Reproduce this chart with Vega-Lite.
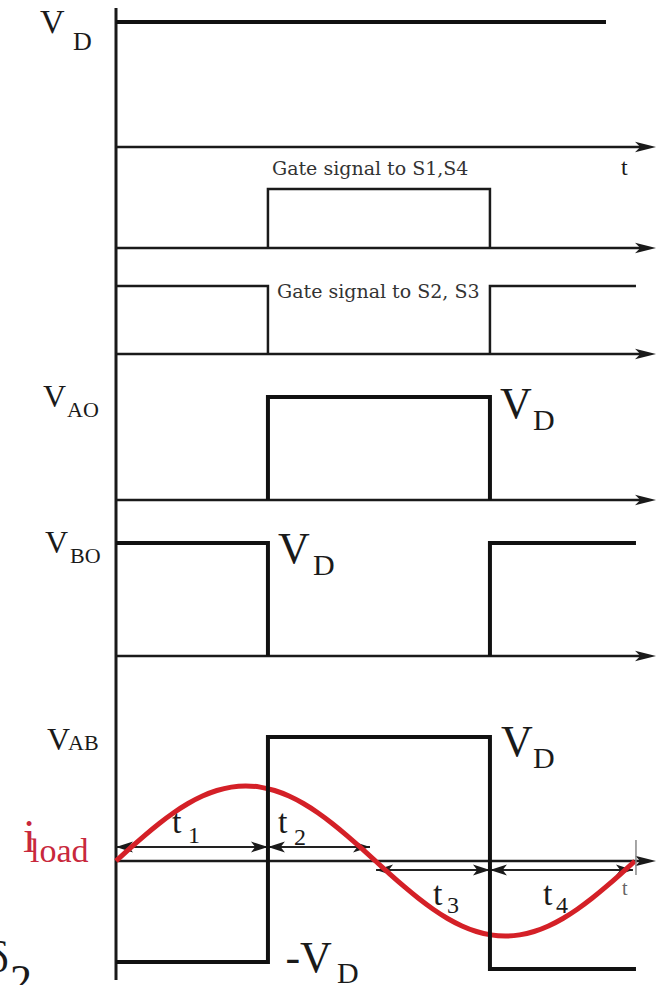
{
  "$schema": "https://vega.github.io/schema/vega-lite/v6.json",
  "width": 666,
  "height": 985,
  "autosize": {"type": "none"},
  "padding": 0,
  "background": "white",
  "config": {"view": {"stroke": null}, "text": {"font": "Liberation Serif", "align": "left", "baseline": "alphabetic"}},
  "datasets": {
    "wave": [
      {"sig": "vd", "seg": "a", "i": 1, "t": 0, "v": 1},
      {"sig": "vd", "seg": "a", "i": 2, "t": 339.9, "v": 1},
      {"sig": "g14", "seg": "a", "i": 1, "t": 105.4, "v": 0},
      {"sig": "g14", "seg": "a", "i": 2, "t": 105.4, "v": 1},
      {"sig": "g14", "seg": "a", "i": 3, "t": 259.4, "v": 1},
      {"sig": "g14", "seg": "a", "i": 4, "t": 259.4, "v": 0},
      {"sig": "g23", "seg": "a", "i": 1, "t": 0, "v": 1},
      {"sig": "g23", "seg": "a", "i": 2, "t": 105.4, "v": 1},
      {"sig": "g23", "seg": "a", "i": 3, "t": 105.4, "v": 0},
      {"sig": "g23", "seg": "b", "i": 4, "t": 259.4, "v": 0},
      {"sig": "g23", "seg": "b", "i": 5, "t": 259.4, "v": 1},
      {"sig": "g23", "seg": "b", "i": 6, "t": 360.7, "v": 1},
      {"sig": "vao", "seg": "a", "i": 1, "t": 105.4, "v": 0},
      {"sig": "vao", "seg": "a", "i": 2, "t": 105.4, "v": 1},
      {"sig": "vao", "seg": "a", "i": 3, "t": 259.4, "v": 1},
      {"sig": "vao", "seg": "a", "i": 4, "t": 259.4, "v": 0},
      {"sig": "vbo", "seg": "a", "i": 1, "t": 0, "v": 1},
      {"sig": "vbo", "seg": "a", "i": 2, "t": 105.4, "v": 1},
      {"sig": "vbo", "seg": "a", "i": 3, "t": 105.4, "v": 0},
      {"sig": "vbo", "seg": "b", "i": 4, "t": 259.4, "v": 0},
      {"sig": "vbo", "seg": "b", "i": 5, "t": 259.4, "v": 1},
      {"sig": "vbo", "seg": "b", "i": 6, "t": 360.7, "v": 1},
      {"sig": "vab", "seg": "a", "i": 1, "t": 0, "v": -0.815},
      {"sig": "vab", "seg": "a", "i": 2, "t": 105.4, "v": -0.815},
      {"sig": "vab", "seg": "a", "i": 3, "t": 105.4, "v": 1},
      {"sig": "vab", "seg": "a", "i": 4, "t": 259.4, "v": 1},
      {"sig": "vab", "seg": "a", "i": 5, "t": 259.4, "v": -0.87},
      {"sig": "vab", "seg": "a", "i": 6, "t": 360.7, "v": -0.87}
    ],
    "axis": [
      {"sig": "vd", "t": 0, "t2": 366, "v": 0},
      {"sig": "g14", "t": 0, "t2": 366, "v": 0},
      {"sig": "g23", "t": 0, "t2": 366, "v": 0},
      {"sig": "vao", "t": 0, "t2": 366, "v": 0},
      {"sig": "vbo", "t": 0, "t2": 366, "v": 0},
      {"sig": "vab", "t": 0, "t2": 366, "v": 0}
    ],
    "heads": [
      {"sig": "vd", "t": 374.6, "v": 0},
      {"sig": "g14", "t": 374.6, "v": 0},
      {"sig": "g23", "t": 374.6, "v": 0},
      {"sig": "vao", "t": 374.6, "v": 0},
      {"sig": "vbo", "t": 374.6, "v": 0},
      {"sig": "vab", "t": 374.6, "v": 0}
    ],
    "vaxis": [{"t": 0, "v": 1.112, "v2": -6.664}],
    "dims": [
      {"t": 0, "t2": 105.4, "v": 0.113},
      {"t": 105.4, "t2": 176.2, "v": 0.113},
      {"t": 180.4, "t2": 259.4, "v": -0.0726},
      {"t": 259.4, "t2": 358.6, "v": -0.0726}
    ],
    "dimheads": [
      {"t": 0, "v": 0.113, "dir": "L"},
      {"t": 105.4, "v": 0.113, "dir": "R"},
      {"t": 105.4, "v": 0.113, "dir": "L"},
      {"t": 176.2, "v": 0.113, "dir": "R"},
      {"t": 180.4, "v": -0.0726, "dir": "L"},
      {"t": 259.4, "v": -0.0726, "dir": "R"},
      {"t": 259.4, "v": -0.0726, "dir": "L"},
      {"t": 358.6, "v": -0.0726, "dir": "R"}
    ],
    "tick": [{"t": 360.7, "v": 0.169, "v2": -0.113}],
    "cur": [
      {"t": 0, "v": 0}, {"t": 10, "v": 0.1051}, {"t": 20, "v": 0.2069}, {"t": 30, "v": 0.3025},
      {"t": 40, "v": 0.3889}, {"t": 50, "v": 0.4635}, {"t": 60, "v": 0.5239}, {"t": 70, "v": 0.5685},
      {"t": 80, "v": 0.5958}, {"t": 90, "v": 0.605}, {"t": 100, "v": 0.5958}, {"t": 110, "v": 0.5685},
      {"t": 120, "v": 0.5239}, {"t": 130, "v": 0.4635}, {"t": 140, "v": 0.3889}, {"t": 150, "v": 0.3025},
      {"t": 160, "v": 0.2069}, {"t": 170, "v": 0.1051}, {"t": 180, "v": 0},
      {"t": 190, "v": -0.1051}, {"t": 200, "v": -0.2069}, {"t": 210, "v": -0.3025}, {"t": 220, "v": -0.3889},
      {"t": 230, "v": -0.4635}, {"t": 240, "v": -0.5239}, {"t": 250, "v": -0.5685}, {"t": 260, "v": -0.5958},
      {"t": 270, "v": -0.605}, {"t": 280, "v": -0.5958}, {"t": 290, "v": -0.5685}, {"t": 300, "v": -0.5239},
      {"t": 310, "v": -0.4635}, {"t": 320, "v": -0.3889}, {"t": 330, "v": -0.3025}, {"t": 340, "v": -0.2069},
      {"t": 350, "v": -0.1051}, {"t": 360, "v": 0}
    ],
    "gate": [
      {"sig": "g14", "t": 108.2, "v": 1.237, "txt": "Gate signal to S1,S4"},
      {"sig": "g23", "t": 111.7, "v": 0.8235, "txt": "Gate signal to S2, S3"}
    ],
    "labels": [
      {"sig": "vd", "t": -52.7, "v": 0.912, "txt": "V", "role": "v34", "ink": "k"},
      {"sig": "vd", "t": -29.8, "v": 0.776, "txt": "D", "role": "s26", "ink": "k"},
      {"sig": "vd", "t": 350.3, "v": -0.224, "txt": "t", "role": "s24", "ink": "k"},
      {"sig": "vao", "t": -50.6, "v": 0.903, "txt": "V", "role": "v32", "ink": "k"},
      {"sig": "vao", "t": -34.0, "v": 0.806, "txt": "AO", "role": "s22", "ink": "k"},
      {"sig": "vao", "t": 266.4, "v": 0.796, "txt": "V", "role": "v44", "ink": "k"},
      {"sig": "vao", "t": 289.3, "v": 0.68, "txt": "D", "role": "s30", "ink": "k"},
      {"sig": "vbo", "t": -49.25, "v": 0.912, "txt": "V", "role": "v32", "ink": "k"},
      {"sig": "vbo", "t": -31.9, "v": 0.823, "txt": "BO", "role": "s22", "ink": "k"},
      {"sig": "vbo", "t": 112.4, "v": 0.823, "txt": "V", "role": "v44", "ink": "k"},
      {"sig": "vbo", "t": 136.7, "v": 0.717, "txt": "D", "role": "s30", "ink": "k"},
      {"sig": "vab", "t": -47.9, "v": 0.895, "txt": "V", "role": "v32", "ink": "k"},
      {"sig": "vab", "t": -33.3, "v": 0.895, "txt": "AB", "role": "s22", "ink": "k"},
      {"sig": "vab", "t": 267.1, "v": 0.847, "txt": "V", "role": "v44", "ink": "k"},
      {"sig": "vab", "t": 289.3, "v": 0.75, "txt": "D", "role": "s30", "ink": "k"},
      {"sig": "vab", "t": 117.5, "v": -0.895, "txt": "-V", "role": "v44", "ink": "k"},
      {"sig": "vab", "t": 153.3, "v": -0.984, "txt": "D", "role": "s30", "ink": "k"},
      {"sig": "vab", "t": -64.5, "v": 0.0726, "txt": "i", "role": "i46", "ink": "r"},
      {"sig": "vab", "t": -59.7, "v": -0.008, "txt": "load", "role": "v34", "ink": "r"},
      {"sig": "vab", "t": 38.8, "v": 0.226, "txt": "t", "role": "v34", "ink": "k"},
      {"sig": "vab", "t": 49.9, "v": 0.145, "txt": "1", "role": "s24", "ink": "k"},
      {"sig": "vab", "t": 112.4, "v": 0.226, "txt": "t", "role": "v34", "ink": "k"},
      {"sig": "vab", "t": 123.5, "v": 0.129, "txt": "2", "role": "s24", "ink": "k"},
      {"sig": "vab", "t": 219.9, "v": -0.355, "txt": "t", "role": "v34", "ink": "k"},
      {"sig": "vab", "t": 229.6, "v": -0.419, "txt": "3", "role": "s24", "ink": "k"},
      {"sig": "vab", "t": 296.2, "v": -0.355, "txt": "t", "role": "v34", "ink": "k"},
      {"sig": "vab", "t": 305.2, "v": -0.419, "txt": "4", "role": "s24", "ink": "k"},
      {"sig": "vab", "t": 351.0, "v": -0.274, "txt": "t", "role": "s20", "ink": "g"},
      {"sig": "vab", "t": -88.8, "v": -0.895, "txt": "δ", "role": "v44", "ink": "k"},
      {"sig": "vab", "t": -73.5, "v": -1.08, "txt": "2.", "role": "v44", "ink": "k"}
    ]
  },
  "encoding": {
    "x": {"field": "t", "type": "quantitative", "scale": {"domain": [-80.47, 381.53], "nice": false, "zero": false}, "axis": null}
  },
  "resolve": {"scale": {"y": "independent"}},
  "layer": [
    {
      "encoding": {"y": {"field": "v", "type": "quantitative", "scale": {"domain": [-6.704, 1.176], "nice": false, "zero": false}, "axis": null}},
      "layer": [
        {"data": {"name": "vaxis"}, "mark": {"type": "rule", "strokeWidth": 3, "color": "#1a1a1a"}, "encoding": {"y2": {"field": "v2"}}},
        {"data": {"name": "axis"}, "transform": [{"filter": "datum.sig == 'vd'"}], "mark": {"type": "rule", "strokeWidth": 2.5, "color": "#1a1a1a"}, "encoding": {"x2": {"field": "t2"}}},
        {"data": {"name": "heads"}, "transform": [{"filter": "datum.sig == 'vd'"}], "mark": {"type": "point", "shape": "M0,0L-1,-0.25L-0.75,0L-1,0.25Z", "size": 1764, "filled": true, "opacity": 1, "strokeWidth": 0, "color": "#1a1a1a"}},
        {"data": {"name": "wave"}, "transform": [{"filter": "datum.sig == 'vd'"}], "mark": {"type": "line", "strokeWidth": 4, "color": "#111111", "strokeJoin": "miter"}, "encoding": {"order": {"field": "i"}, "detail": {"field": "seg"}}},
        {"data": {"name": "labels"}, "transform": [{"filter": "datum.sig == 'vd' && datum.role == 'v34'"}], "mark": {"type": "text", "fontSize": 34, "color": "#1a1a1a"}, "encoding": {"text": {"field": "txt"}}},
        {"data": {"name": "labels"}, "transform": [{"filter": "datum.sig == 'vd' && datum.role == 's26'"}], "mark": {"type": "text", "fontSize": 26, "color": "#1a1a1a"}, "encoding": {"text": {"field": "txt"}}},
        {"data": {"name": "labels"}, "transform": [{"filter": "datum.sig == 'vd' && datum.role == 's24'"}], "mark": {"type": "text", "fontSize": 24, "color": "#1a1a1a"}, "encoding": {"text": {"field": "txt"}}}
      ]
    },
    {
      "encoding": {"y": {"field": "v", "type": "quantitative", "scale": {"domain": [-12.492, 4.2034], "nice": false, "zero": false}, "axis": null}},
      "layer": [
        {"data": {"name": "axis"}, "transform": [{"filter": "datum.sig == 'g14'"}], "mark": {"type": "rule", "strokeWidth": 2.5, "color": "#1a1a1a"}, "encoding": {"x2": {"field": "t2"}}},
        {"data": {"name": "heads"}, "transform": [{"filter": "datum.sig == 'g14'"}], "mark": {"type": "point", "shape": "M0,0L-1,-0.25L-0.75,0L-1,0.25Z", "size": 1764, "filled": true, "opacity": 1, "strokeWidth": 0, "color": "#1a1a1a"}},
        {"data": {"name": "wave"}, "transform": [{"filter": "datum.sig == 'g14'"}], "mark": {"type": "line", "strokeWidth": 2.5, "color": "#1a1a1a", "strokeJoin": "miter"}, "encoding": {"order": {"field": "i"}, "detail": {"field": "seg"}}},
        {"data": {"name": "gate"}, "transform": [{"filter": "datum.sig == 'g14'"}], "mark": {"type": "text", "font": "DejaVu Serif", "fontSize": 19, "color": "#333333"}, "encoding": {"text": {"field": "txt"}}}
      ]
    },
    {
      "encoding": {"y": {"field": "v", "type": "quantitative", "scale": {"domain": [-9.279, 5.2059], "nice": false, "zero": false}, "axis": null}},
      "layer": [
        {"data": {"name": "axis"}, "transform": [{"filter": "datum.sig == 'g23'"}], "mark": {"type": "rule", "strokeWidth": 2.5, "color": "#1a1a1a"}, "encoding": {"x2": {"field": "t2"}}},
        {"data": {"name": "heads"}, "transform": [{"filter": "datum.sig == 'g23'"}], "mark": {"type": "point", "shape": "M0,0L-1,-0.25L-0.75,0L-1,0.25Z", "size": 1764, "filled": true, "opacity": 1, "strokeWidth": 0, "color": "#1a1a1a"}},
        {"data": {"name": "wave"}, "transform": [{"filter": "datum.sig == 'g23'"}], "mark": {"type": "line", "strokeWidth": 2.5, "color": "#1a1a1a", "strokeJoin": "miter"}, "encoding": {"order": {"field": "i"}, "detail": {"field": "seg"}}},
        {"data": {"name": "gate"}, "transform": [{"filter": "datum.sig == 'g23'"}], "mark": {"type": "text", "font": "DejaVu Serif", "fontSize": 19, "color": "#333333"}, "encoding": {"text": {"field": "txt"}}}
      ]
    },
    {
      "encoding": {"y": {"field": "v", "type": "quantitative", "scale": {"domain": [-4.7087, 4.8544], "nice": false, "zero": false}, "axis": null}},
      "layer": [
        {"data": {"name": "axis"}, "transform": [{"filter": "datum.sig == 'vao'"}], "mark": {"type": "rule", "strokeWidth": 2.5, "color": "#1a1a1a"}, "encoding": {"x2": {"field": "t2"}}},
        {"data": {"name": "heads"}, "transform": [{"filter": "datum.sig == 'vao'"}], "mark": {"type": "point", "shape": "M0,0L-1,-0.25L-0.75,0L-1,0.25Z", "size": 1764, "filled": true, "opacity": 1, "strokeWidth": 0, "color": "#1a1a1a"}},
        {"data": {"name": "wave"}, "transform": [{"filter": "datum.sig == 'vao'"}], "mark": {"type": "line", "strokeWidth": 4, "color": "#111111", "strokeJoin": "miter"}, "encoding": {"order": {"field": "i"}, "detail": {"field": "seg"}}},
        {"data": {"name": "labels"}, "transform": [{"filter": "datum.sig == 'vao' && datum.role == 'v32'"}], "mark": {"type": "text", "fontSize": 32, "color": "#1a1a1a"}, "encoding": {"text": {"field": "txt"}}},
        {"data": {"name": "labels"}, "transform": [{"filter": "datum.sig == 'vao' && datum.role == 's22'"}], "mark": {"type": "text", "fontSize": 22, "color": "#1a1a1a"}, "encoding": {"text": {"field": "txt"}}},
        {"data": {"name": "labels"}, "transform": [{"filter": "datum.sig == 'vao' && datum.role == 'v44'"}], "mark": {"type": "text", "fontSize": 44, "color": "#1a1a1a"}, "encoding": {"text": {"field": "txt"}}},
        {"data": {"name": "labels"}, "transform": [{"filter": "datum.sig == 'vao' && datum.role == 's30'"}], "mark": {"type": "text", "fontSize": 30, "color": "#1a1a1a"}, "encoding": {"text": {"field": "txt"}}}
      ]
    },
    {
      "encoding": {"y": {"field": "v", "type": "quantitative", "scale": {"domain": [-2.9115, 5.8053], "nice": false, "zero": false}, "axis": null}},
      "layer": [
        {"data": {"name": "axis"}, "transform": [{"filter": "datum.sig == 'vbo'"}], "mark": {"type": "rule", "strokeWidth": 2.5, "color": "#1a1a1a"}, "encoding": {"x2": {"field": "t2"}}},
        {"data": {"name": "heads"}, "transform": [{"filter": "datum.sig == 'vbo'"}], "mark": {"type": "point", "shape": "M0,0L-1,-0.25L-0.75,0L-1,0.25Z", "size": 1764, "filled": true, "opacity": 1, "strokeWidth": 0, "color": "#1a1a1a"}},
        {"data": {"name": "wave"}, "transform": [{"filter": "datum.sig == 'vbo'"}], "mark": {"type": "line", "strokeWidth": 4, "color": "#111111", "strokeJoin": "miter"}, "encoding": {"order": {"field": "i"}, "detail": {"field": "seg"}}},
        {"data": {"name": "labels"}, "transform": [{"filter": "datum.sig == 'vbo' && datum.role == 'v32'"}], "mark": {"type": "text", "fontSize": 32, "color": "#1a1a1a"}, "encoding": {"text": {"field": "txt"}}},
        {"data": {"name": "labels"}, "transform": [{"filter": "datum.sig == 'vbo' && datum.role == 's22'"}], "mark": {"type": "text", "fontSize": 22, "color": "#1a1a1a"}, "encoding": {"text": {"field": "txt"}}},
        {"data": {"name": "labels"}, "transform": [{"filter": "datum.sig == 'vbo' && datum.role == 'v44'"}], "mark": {"type": "text", "fontSize": 44, "color": "#1a1a1a"}, "encoding": {"text": {"field": "txt"}}},
        {"data": {"name": "labels"}, "transform": [{"filter": "datum.sig == 'vbo' && datum.role == 's30'"}], "mark": {"type": "text", "fontSize": 30, "color": "#1a1a1a"}, "encoding": {"text": {"field": "txt"}}}
      ]
    },
    {
      "encoding": {"y": {"field": "v", "type": "quantitative", "scale": {"domain": [-1.0, 6.9435], "nice": false, "zero": false}, "axis": null}},
      "layer": [
        {"data": {"name": "axis"}, "transform": [{"filter": "datum.sig == 'vab'"}], "mark": {"type": "rule", "strokeWidth": 2.5, "color": "#1a1a1a"}, "encoding": {"x2": {"field": "t2"}}},
        {"data": {"name": "heads"}, "transform": [{"filter": "datum.sig == 'vab'"}], "mark": {"type": "point", "shape": "M0,0L-1,-0.25L-0.75,0L-1,0.25Z", "size": 1764, "filled": true, "opacity": 1, "strokeWidth": 0, "color": "#1a1a1a"}},
        {"data": {"name": "dims"}, "mark": {"type": "rule", "strokeWidth": 1.8, "color": "#222222"}, "encoding": {"x2": {"field": "t2"}}},
        {"data": {"name": "dimheads"}, "transform": [{"filter": "datum.dir == 'R'"}], "mark": {"type": "point", "shape": "M0,0L-1,-0.32L-0.75,0L-1,0.32Z", "size": 1156, "filled": true, "opacity": 1, "strokeWidth": 0, "color": "#1a1a1a"}},
        {"data": {"name": "dimheads"}, "transform": [{"filter": "datum.dir == 'L'"}], "mark": {"type": "point", "shape": "M0,0L1,-0.32L0.75,0L1,0.32Z", "size": 1156, "filled": true, "opacity": 1, "strokeWidth": 0, "color": "#1a1a1a"}},
        {"data": {"name": "cur"}, "mark": {"type": "line", "strokeWidth": 5, "color": "#d42027", "interpolate": "natural"}},
        {"data": {"name": "wave"}, "transform": [{"filter": "datum.sig == 'vab'"}], "mark": {"type": "line", "strokeWidth": 4, "color": "#111111", "strokeJoin": "miter"}, "encoding": {"order": {"field": "i"}, "detail": {"field": "seg"}}},
        {"data": {"name": "tick"}, "mark": {"type": "rule", "strokeWidth": 1.5, "color": "#888888"}, "encoding": {"y2": {"field": "v2"}}},
        {"data": {"name": "labels"}, "transform": [{"filter": "datum.sig == 'vab' && datum.role == 'v32'"}], "mark": {"type": "text", "fontSize": 32, "color": "#1a1a1a"}, "encoding": {"text": {"field": "txt"}}},
        {"data": {"name": "labels"}, "transform": [{"filter": "datum.sig == 'vab' && datum.role == 's22'"}], "mark": {"type": "text", "fontSize": 22, "color": "#1a1a1a"}, "encoding": {"text": {"field": "txt"}}},
        {"data": {"name": "labels"}, "transform": [{"filter": "datum.sig == 'vab' && datum.role == 'v44'"}], "mark": {"type": "text", "fontSize": 44, "color": "#1a1a1a"}, "encoding": {"text": {"field": "txt"}}},
        {"data": {"name": "labels"}, "transform": [{"filter": "datum.sig == 'vab' && datum.role == 's30'"}], "mark": {"type": "text", "fontSize": 30, "color": "#1a1a1a"}, "encoding": {"text": {"field": "txt"}}},
        {"data": {"name": "labels"}, "transform": [{"filter": "datum.sig == 'vab' && datum.role == 'v34' && datum.ink == 'k'"}], "mark": {"type": "text", "fontSize": 34, "color": "#1a1a1a"}, "encoding": {"text": {"field": "txt"}}},
        {"data": {"name": "labels"}, "transform": [{"filter": "datum.sig == 'vab' && datum.role == 's24'"}], "mark": {"type": "text", "fontSize": 24, "color": "#1a1a1a"}, "encoding": {"text": {"field": "txt"}}},
        {"data": {"name": "labels"}, "transform": [{"filter": "datum.sig == 'vab' && datum.role == 's20'"}], "mark": {"type": "text", "fontSize": 20, "color": "#666666"}, "encoding": {"text": {"field": "txt"}}},
        {"data": {"name": "labels"}, "transform": [{"filter": "datum.sig == 'vab' && datum.role == 'i46'"}], "mark": {"type": "text", "fontSize": 46, "color": "#c8283c"}, "encoding": {"text": {"field": "txt"}}},
        {"data": {"name": "labels"}, "transform": [{"filter": "datum.sig == 'vab' && datum.role == 'v34' && datum.ink == 'r'"}], "mark": {"type": "text", "fontSize": 34, "color": "#c8283c"}, "encoding": {"text": {"field": "txt"}}}
      ]
    }
  ]
}
